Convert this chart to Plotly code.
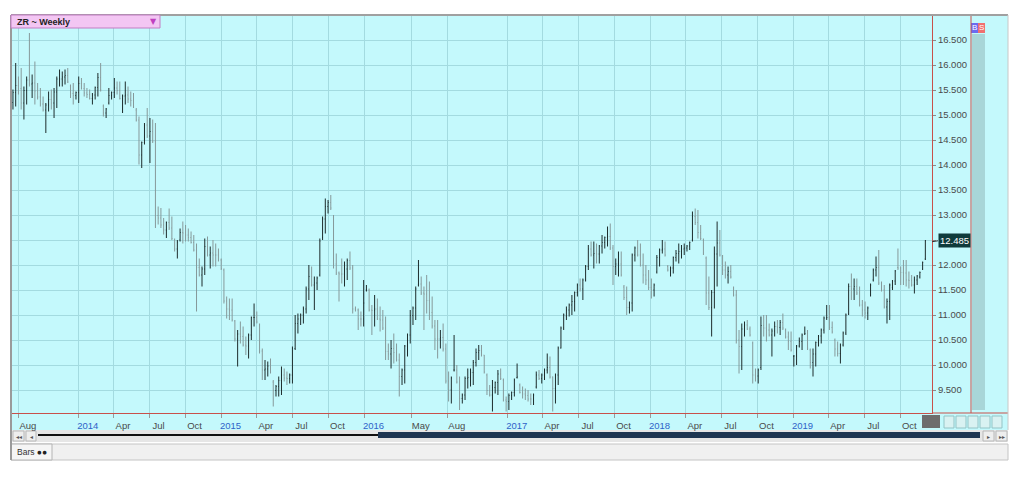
import pandas as pd
import plotly.graph_objects as go

# ---------------- data (weekly OHLC) ----------------
start_date = "2013-07-17"

highs = [
    15.51,16.04,15.77,15.94,15.57,15.77,16.64,15.81,16.07,15.64,
    15.54,15.37,15.24,15.47,15.51,15.54,15.77,15.91,15.87,15.91,
    15.94,15.61,15.64,15.47,15.77,15.74,15.64,15.54,15.51,15.44,
    15.57,15.84,16.04,15.21,15.14,15.54,15.47,15.74,15.67,15.67,
    15.41,15.67,15.57,15.47,15.44,15.14,14.97,14.47,14.84,15.14,
    14.94,14.91,14.84,13.17,13.14,12.94,12.87,
    13.13,12.97,12.53,12.50,12.73,12.87,12.80,12.73,12.67,12.60,
    12.43,12.13,11.97,12.53,12.57,12.37,12.50,12.43,12.33,12.13,
    11.93,11.37,11.33,11.33,10.90,10.70,10.87,10.77,10.57,10.63,
    10.97,11.23,11.07,10.83,10.33,10.10,10.07,10.13,9.70,9.60,
    9.77,9.97,9.93,9.87,9.83,10.37,11.00,11.03,11.03,11.17,
    11.57,12.00,11.97,11.77,11.77,12.53,
    12.97,13.33,13.30,13.40,13.00,12.23,11.87,12.13,12.07,12.13,
    12.27,12.00,11.17,11.13,11.07,11.70,11.60,11.53,11.20,11.40,
    11.33,11.17,11.10,10.97,10.43,10.50,10.63,10.43,10.23,9.93,
    10.40,10.63,11.10,11.17,11.57,12.10,11.77,11.57,11.80,11.67,
    11.37,10.90,10.90,10.70,10.83,10.43,9.87,9.77,10.60,10.00,
    9.77,9.43,9.77,9.93,9.93,10.10,
    10.33,10.40,10.40,10.20,9.83,9.60,9.70,9.67,9.90,9.93,
    9.73,9.37,9.43,9.47,9.73,10.03,9.63,9.57,9.53,9.50,
    9.43,9.43,9.87,9.90,9.83,9.93,10.23,10.17,9.77,9.83,
    10.37,10.77,11.03,11.17,11.23,11.40,11.47,11.63,11.73,11.73,
    12.00,12.40,12.47,12.47,12.43,12.40,12.60,12.57,12.77,12.83,
    12.40,12.13,
    12.27,12.27,11.60,11.57,11.27,12.23,12.37,12.50,12.43,12.23,
    12.00,11.90,11.73,11.63,12.20,12.33,12.50,12.47,12.00,11.97,
    12.17,12.30,12.43,12.40,12.43,12.40,12.47,13.07,13.13,13.10,
    12.80,12.53,12.17,11.77,11.50,12.37,12.87,12.70,12.20,12.07,
    11.97,12.00,11.57,11.50,10.70,10.83,10.87,10.90,10.77,10.47,
    9.93,9.93,10.97,11.00,11.00,10.83,10.73,
    10.87,10.90,10.90,11.03,10.73,10.67,10.67,10.20,10.40,10.55,
    10.63,10.77,10.70,10.33,10.33,10.47,10.60,10.73,10.97,11.20,
    11.20,10.87,10.53,10.47,10.43,10.67,11.03,11.63,11.83,11.73,
    11.73,11.57,11.30,11.27,11.17,11.63,11.93,12.17,12.30,11.67,
    11.60,11.33,11.63,11.70,11.90,12.33,11.97,12.10,12.10,11.87,
    11.80,11.77,11.80,11.87,12.07,12.50,
]

lows = [
    15.11,15.17,15.41,15.11,14.91,15.21,15.57,15.34,15.21,15.31,
    15.17,15.07,14.64,15.07,15.11,14.94,15.14,15.57,15.57,15.61,
    15.64,15.34,15.21,15.31,15.24,15.51,15.37,15.34,15.31,15.21,
    15.31,15.37,15.47,14.97,14.94,15.21,15.31,15.34,15.41,15.31,
    15.04,15.21,15.24,15.17,15.14,14.87,14.01,13.94,14.41,14.54,
    14.04,14.44,12.74,12.81,12.74,12.61,12.54,
    12.70,12.50,12.27,12.13,12.47,12.43,12.47,12.47,12.43,12.27,
    11.07,11.77,11.57,11.80,12.17,11.93,11.97,11.97,12.07,11.90,
    11.23,10.93,10.90,10.87,10.47,9.97,10.43,10.37,10.20,10.13,
    10.50,10.77,10.83,10.23,9.70,9.70,9.77,9.83,9.17,9.37,
    9.37,9.40,9.67,9.60,9.63,9.63,10.30,10.63,10.80,10.83,
    11.03,11.30,11.57,11.10,11.50,11.77,
    12.50,12.63,13.03,13.10,11.93,11.80,11.27,11.63,11.57,11.70,
    11.90,11.03,11.07,10.70,10.77,10.77,11.47,11.07,10.60,10.77,
    10.90,10.67,10.70,10.10,10.10,9.93,10.03,10.07,9.37,9.60,
    9.63,10.17,10.43,10.80,10.90,11.57,11.40,10.70,11.03,10.90,
    10.73,10.30,10.13,10.33,10.27,9.63,9.27,9.23,9.87,9.63,
    9.10,9.23,9.30,9.53,9.57,9.60,
    9.97,10.10,10.17,9.83,9.40,9.37,9.07,9.43,9.40,9.70,
    9.27,9.07,9.10,9.30,9.37,9.73,9.43,9.33,9.30,9.27,
    9.20,9.20,9.53,9.70,9.63,9.70,9.83,9.73,9.07,9.23,
    9.60,10.33,10.70,10.90,10.97,11.00,11.07,11.37,11.47,11.30,
    11.67,11.90,12.17,11.93,12.03,12.03,12.23,12.33,12.37,12.30,
    11.60,11.80,
    11.77,11.77,11.30,11.00,11.03,11.07,12.07,12.17,11.97,11.63,
    11.60,11.50,11.33,11.37,11.83,11.97,12.23,12.17,11.87,11.77,
    11.83,12.07,12.03,12.13,12.20,12.27,12.30,12.47,12.80,12.53,
    12.50,12.20,11.20,11.10,10.57,11.13,11.57,12.17,11.80,11.73,
    11.63,11.73,11.37,10.43,9.83,9.90,10.57,10.70,10.57,9.63,
    9.67,9.63,9.90,10.57,10.47,10.57,10.17,
    10.57,10.63,10.60,10.70,10.53,10.30,10.27,9.97,10.00,10.35,
    10.30,10.60,10.30,9.93,9.77,9.97,10.37,10.43,10.63,10.90,
    10.70,10.63,10.17,10.17,10.03,10.37,10.60,11.00,11.30,11.30,
    11.40,11.17,10.97,10.93,10.90,11.37,11.67,11.77,11.60,11.47,
    11.13,10.83,10.90,11.50,11.60,11.90,11.60,11.60,11.57,11.53,
    11.57,11.43,11.60,11.73,11.90,12.10,
]

opens = [
    15.25,15.45,15.59,15.53,15.24,15.49,15.70,15.62,15.64,15.48,
    15.36,15.22,15.10,15.20,15.31,15.24,15.46,15.72,15.72,15.76,
    15.79,15.58,15.43,15.39,15.45,15.63,15.53,15.44,15.41,15.33,
    15.40,15.55,15.75,15.18,15.04,15.24,15.39,15.45,15.54,15.49,
    15.33,15.38,15.40,15.32,15.29,15.10,14.90,14.20,14.45,14.80,
    14.58,14.67,14.48,12.99,12.94,12.80,12.70,
    12.85,12.74,12.50,12.32,12.50,12.65,12.64,12.60,12.55,12.45,
    12.30,11.95,11.80,11.92,12.37,12.20,12.24,12.20,12.20,12.10,
    11.90,11.28,11.12,11.10,10.88,10.52,10.62,10.57,10.40,10.38,
    10.60,10.95,10.95,10.80,10.28,9.90,9.92,9.98,9.66,9.49,
    9.57,9.69,9.80,9.74,9.73,9.80,10.33,10.83,10.92,11.00,
    11.12,11.52,11.77,11.60,11.64,11.80,
    12.55,12.92,13.17,13.25,12.96,12.02,11.84,11.82,11.82,11.92,
    12.09,11.94,11.12,11.10,10.92,10.92,11.50,11.50,11.10,11.09,
    11.12,10.92,10.90,10.74,10.27,10.22,10.33,10.25,10.10,9.77,
    9.90,10.38,10.60,10.99,11.14,11.60,11.62,11.44,11.42,11.29,
    11.05,10.78,10.52,10.52,10.55,10.32,9.68,9.50,9.90,9.90,
    9.66,9.33,9.40,9.73,9.75,9.85,
    10.05,10.25,10.29,10.20,9.80,9.49,9.40,9.55,9.65,9.82,
    9.70,9.30,9.27,9.39,9.45,9.75,9.60,9.45,9.42,9.39,
    9.32,9.32,9.56,9.80,9.73,9.80,9.90,9.95,9.76,9.53,
    9.80,10.34,10.74,10.98,11.10,11.20,11.27,11.45,11.60,11.52,
    11.70,11.97,12.32,12.20,12.23,12.22,12.38,12.45,12.55,12.57,
    12.34,11.97,
    12.02,12.02,11.56,11.35,11.15,11.24,12.20,12.34,12.20,12.00,
    11.80,11.70,11.55,11.50,11.86,12.15,12.30,12.32,11.97,11.90,
    11.94,12.15,12.23,12.27,12.32,12.34,12.38,12.50,12.97,12.85,
    12.65,12.50,12.14,11.44,11.15,11.45,12.22,12.44,12.18,11.90,
    11.80,11.87,11.54,11.40,10.50,10.37,10.72,10.80,10.72,10.44,
    9.80,9.78,9.95,10.79,10.74,10.70,10.60,
    10.68,10.77,10.75,10.85,10.70,10.56,10.47,10.17,10.18,10.38,
    10.47,10.62,10.63,10.30,10.05,10.22,10.45,10.58,10.70,10.94,
    10.95,10.75,10.50,10.32,10.23,10.40,10.64,11.02,11.57,11.52,
    11.57,11.44,11.20,11.10,11.04,11.40,11.70,11.90,11.95,11.64,
    11.50,11.16,11.27,11.55,11.68,11.95,11.94,11.85,11.84,11.70,
    11.69,11.60,11.70,11.76,11.92,12.12,
]

closes = [
    15.45,15.59,15.53,15.24,15.49,15.70,15.62,15.64,15.48,15.36,
    15.22,15.10,15.20,15.31,15.24,15.46,15.72,15.72,15.76,15.79,
    15.66,15.43,15.39,15.45,15.63,15.53,15.44,15.41,15.33,15.40,
    15.55,15.75,15.50,15.04,15.12,15.39,15.45,15.54,15.49,15.33,
    15.38,15.40,15.32,15.29,15.16,14.90,14.20,14.45,14.80,14.58,
    14.67,14.48,12.99,12.94,12.80,12.70,12.85,
    12.74,12.53,12.32,12.46,12.65,12.64,12.60,12.55,12.45,12.30,
    11.95,11.80,11.92,12.37,12.20,12.24,12.20,12.20,12.10,11.93,
    11.28,11.12,11.10,10.90,10.52,10.62,10.57,10.40,10.38,10.60,
    10.95,10.95,10.86,10.28,9.90,9.92,9.98,9.86,9.49,9.57,
    9.69,9.80,9.74,9.73,9.80,10.33,10.83,10.92,11.00,11.12,
    11.52,11.77,11.60,11.64,11.74,12.48,
    12.92,13.17,13.25,13.14,12.02,11.84,11.82,11.82,11.92,12.09,
    11.94,11.12,11.10,10.92,10.92,11.24,11.50,11.10,11.09,11.12,
    10.92,10.90,10.74,10.27,10.22,10.33,10.25,10.10,9.77,9.90,
    10.38,10.60,10.99,11.14,11.52,11.62,11.44,11.42,11.29,11.05,
    10.78,10.52,10.52,10.55,10.32,9.68,9.50,9.74,9.90,9.66,
    9.33,9.40,9.73,9.75,9.85,10.05,
    10.25,10.29,10.20,9.86,9.49,9.40,9.55,9.65,9.82,9.73,
    9.30,9.27,9.39,9.45,9.70,9.76,9.45,9.42,9.39,9.32,
    9.32,9.40,9.80,9.73,9.80,9.90,9.95,9.76,9.53,9.80,
    10.34,10.74,11.00,11.10,11.20,11.27,11.45,11.60,11.52,11.70,
    11.97,12.32,12.20,12.23,12.22,12.38,12.45,12.55,12.57,12.34,
    11.97,12.02,
    12.02,11.80,11.35,11.15,11.24,12.20,12.34,12.20,12.00,11.80,
    11.70,11.55,11.50,11.60,12.15,12.30,12.32,12.20,11.90,11.94,
    12.15,12.23,12.27,12.32,12.34,12.38,12.45,12.97,12.85,12.65,
    12.53,12.24,11.44,11.15,11.45,12.22,12.44,12.20,11.90,11.80,
    11.87,11.76,11.40,10.50,10.37,10.72,10.80,10.72,10.60,9.80,
    9.78,9.90,10.79,10.74,10.70,10.60,10.68,
    10.77,10.75,10.85,10.74,10.56,10.47,10.30,10.18,10.38,10.47,
    10.60,10.63,10.34,10.05,10.22,10.45,10.58,10.70,10.94,10.95,
    10.75,10.66,10.32,10.23,10.40,10.64,11.00,11.57,11.52,11.57,
    11.44,11.20,11.10,11.04,11.14,11.60,11.90,11.95,11.64,11.50,
    11.16,11.27,11.60,11.68,11.88,11.94,11.85,11.84,11.70,11.69,
    11.60,11.70,11.78,11.85,12.05,12.485,
]

tick_dates = ["2013-08-01", "2014-01-01", "2014-04-01", "2014-07-01", "2014-10-01",
              "2015-01-01", "2015-04-01", "2015-07-01", "2015-10-01",
              "2016-01-01", "2016-05-01", "2016-08-01",
              "2017-01-01", "2017-04-01", "2017-07-01", "2017-10-01",
              "2018-01-01", "2018-04-01", "2018-07-01", "2018-10-01",
              "2019-01-01", "2019-04-01", "2019-07-01", "2019-10-01"]
tick_labels = ["Aug", "2014", "Apr", "Jul", "Oct", "2015", "Apr", "Jul", "Oct",
               "2016", "May", "Aug", "2017", "Apr", "Jul", "Oct",
               "2018", "Apr", "Jul", "Oct", "2019", "Apr", "Jul", "Oct"]
price_ticks = [9.5, 10.0, 10.5, 11.0, 11.5, 12.0, 12.5, 13.0, 13.5,
               14.0, 14.5, 15.0, 15.5, 16.0, 16.5]
last_price = 12.485
chart_title = "ZR ~ Weekly"

# ---------------- figure ----------------
dates = pd.date_range(start_date, periods=len(highs), freq="7D")

# the page body has an 8 px margin: the figure starts at (8, 8) in the window
OFF = 8
W, H = 1024 - OFF, 477 - OFF
ML, MR, MT, MB = 11 - OFF, 92, 15 - OFF, 64
PW = W - ML - MR
PH = H - MT - MB


def px(x):  # window pixel x -> paper x
    return (x - OFF - ML) / PW


def py(y):  # window pixel y -> paper y
    return (H - MB - (y - OFF)) / PH


BG = "#c4f9fc"
GRID = "#a3dbe0"
RED = "#c8504a"
FONT = "Liberation Sans"

fig = go.Figure()
fig.add_trace(go.Ohlc(
    x=dates, open=opens, high=highs, low=lows, close=closes,
    increasing=dict(line=dict(color="#1d2c2c", width=1)),
    decreasing=dict(line=dict(color="#86999a", width=1)),
    tickwidth=0.2, hoverinfo="skip", showlegend=False,
))

ticktext = []
for lab in tick_labels:
    if lab.isdigit():
        ticktext.append(f"<span style='color:#2f62c8'>{lab}</span>")
    else:
        ticktext.append(f"<span style='color:#4a4a4a'>{lab}</span>")

# the 12.500 label is hidden behind the last-price box in the reference
ytext = ["" if abs(v - 12.5) < 1e-9 else f"{v:.3f}" for v in price_ticks]

shapes = []


def rect(x0, y0, x1, y1, fill, line=None, lw=1, layer="below"):
    shapes.append(dict(type="rect", xref="paper", yref="paper",
                       x0=px(x0), x1=px(x1), y0=py(y0), y1=py(y1),
                       fillcolor=fill, layer=layer,
                       line=dict(color=line or fill, width=lw if line else 0)))


def hline(x0, x1, y, color, w=1, layer="above"):
    shapes.append(dict(type="line", xref="paper", yref="paper",
                       x0=px(x0), x1=px(x1), y0=py(y), y1=py(y),
                       line=dict(color=color, width=w), layer=layer))


def vline(x, y0, y1, color, w=1, layer="above"):
    shapes.append(dict(type="line", xref="paper", yref="paper",
                       x0=px(x), x1=px(x), y0=py(y0), y1=py(y1),
                       line=dict(color=color, width=w), layer=layer))


# right strip & bottom strip in chart colour
rect(932, 15, 1008, 413, BG)
rect(11, 413, 1008, 430, BG)
# gray column in the right strip
rect(972, 34, 985, 410, "#a8d6d8")
# B / S boxes
rect(971, 23, 978, 33, "#6b6bf0", layer="above")
rect(978, 23, 985, 33, "#f07070", layer="above")
# red frame lines
vline(971, 15, 413, RED)
hline(932, 1008, 413, RED)
# outer frame
hline(11, 1008, 15, "#a0a0a0", 2)
vline(11, 15, 460, "#9a9a9a", 2)
vline(1008, 15, 430, "#c8c8c8", 1)
# dark box under the axis end + small buttons
rect(922, 415, 940, 428, "#6d6d6d", layer="above")
for bx in [944, 956, 968, 980, 992]:
    rect(bx, 416, bx + 10, 428, "#d9f2f2", "#93c4c6", 1, layer="above")
# scroll row
rect(11, 430, 1008, 442, "#e6e6e6")
rect(13, 431, 24, 441, "#eeeeee", "#b8b8b8", 1)
rect(26, 431, 36, 441, "#eeeeee", "#b8b8b8", 1)
rect(983, 431, 994, 441, "#eeeeee", "#b8b8b8", 1)
rect(996, 431, 1007, 441, "#eeeeee", "#b8b8b8", 1)
hline(38, 980, 435, "#111111", 2)
rect(378, 432, 980, 438, "#1e3652", layer="above")
# bottom tab row
rect(11, 444, 1008, 460, "#f0f0f0", "#c4c4c4", 1)
rect(11, 444, 52, 460, "#f5f5f5", "#b4b4b4", 1)
# title box at top-left
rect(11, 15, 160, 28, "#f3c6f3", "#c27cc2", 1, layer="above")
# short connector from the last bar to the price box
shapes.append(dict(type="line", xref="paper", yref="y", x0=px(932), x1=px(938),
                   y0=last_price - 0.02, y1=last_price, line=dict(color="#333", width=1),
                   layer="above"))

annotations = [
    dict(xref="paper", yref="paper", x=px(15), y=py(21.5), xanchor="left", yanchor="middle",
         text=f"<b>{chart_title}</b>", showarrow=False,
         font=dict(family=FONT, size=9, color="#222222")),
    dict(xref="paper", yref="paper", x=px(153), y=py(21.5), xanchor="center", yanchor="middle",
         text="▼", showarrow=False, font=dict(family="DejaVu Sans", size=8, color="#c040c0")),
    dict(xref="paper", yref="paper", x=px(974.5), y=py(28), xanchor="center", yanchor="middle",
         text="B", showarrow=False, font=dict(family=FONT, size=8, color="white")),
    dict(xref="paper", yref="paper", x=px(981.5), y=py(28), xanchor="center", yanchor="middle",
         text="S", showarrow=False, font=dict(family=FONT, size=8, color="white")),
    dict(xref="paper", yref="y", x=px(938), y=last_price, xanchor="left", yanchor="middle",
         text=f"{last_price:.3f}", showarrow=False, bgcolor="#0f3b3c", borderpad=1,
         font=dict(family=FONT, size=9.5, color="white")),
    dict(xref="paper", yref="paper", x=px(18.5), y=py(436), xanchor="center", yanchor="middle",
         text="◂◂", showarrow=False, font=dict(family="DejaVu Sans", size=6, color="#555")),
    dict(xref="paper", yref="paper", x=px(31), y=py(436), xanchor="center", yanchor="middle",
         text="◂", showarrow=False, font=dict(family="DejaVu Sans", size=6, color="#555")),
    dict(xref="paper", yref="paper", x=px(988.5), y=py(436), xanchor="center", yanchor="middle",
         text="▸", showarrow=False, font=dict(family="DejaVu Sans", size=6, color="#555")),
    dict(xref="paper", yref="paper", x=px(1001.5), y=py(436), xanchor="center", yanchor="middle",
         text="▸▸", showarrow=False, font=dict(family="DejaVu Sans", size=6, color="#555")),
    dict(xref="paper", yref="paper", x=px(15), y=py(452), xanchor="left", yanchor="middle",
         text="Bars <span style='color:#222'>●●</span>", showarrow=False,
         font=dict(family=FONT, size=8.5, color="#333")),
]

fig.update_layout(
    width=W, height=H,
    margin=dict(l=ML, r=MR, t=MT, b=MB, pad=0),
    paper_bgcolor="white", plot_bgcolor=BG,
    showlegend=False, hovermode=False,
    shapes=shapes, annotations=annotations,
    xaxis=dict(
        type="date", range=["2013-07-12", "2019-12-21"],
        rangeslider=dict(visible=False),
        tickmode="array", tickvals=tick_dates, ticktext=ticktext,
        ticklabelshift=9,
        showgrid=True, gridcolor=GRID, gridwidth=1,
        ticks="outside", ticklen=4, tickcolor="#9a9a9a",
        showline=True, linecolor=RED, linewidth=1,
        tickfont=dict(family=FONT, size=9.5),
        zeroline=False, fixedrange=True,
    ),
    yaxis=dict(
        side="right", range=[9.04, 17.0],
        tickmode="array", tickvals=price_ticks, ticktext=ytext,
        showgrid=True, gridcolor=GRID, gridwidth=1,
        ticks="outside", ticklen=3, tickcolor="#8a8a8a",
        showline=True, linecolor=RED, linewidth=1,
        tickfont=dict(family=FONT, size=9.5, color="#4a4a4a"),
        zeroline=False, fixedrange=True,
    ),
)

fig.write_html("out.html", config={"displayModeBar": False})
